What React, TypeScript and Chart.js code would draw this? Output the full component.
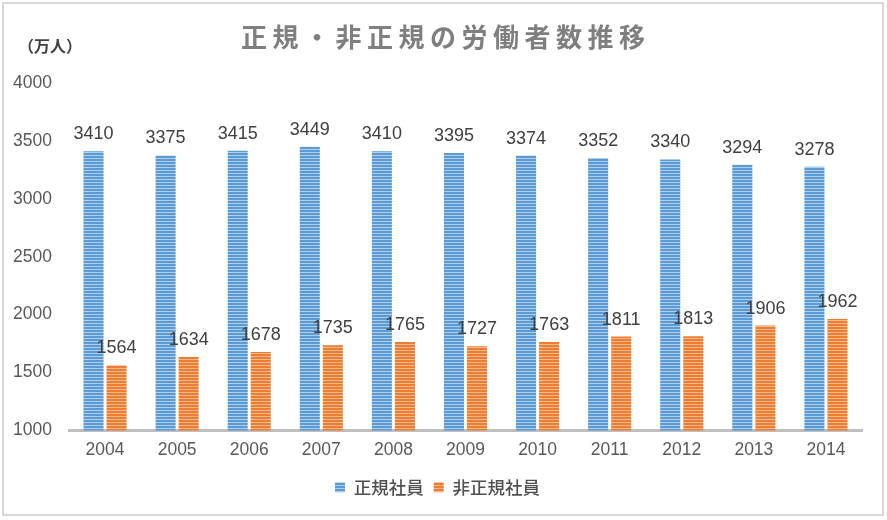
import React, { useEffect, useRef } from "react";
import { Chart, registerables } from "chart.js";

Chart.register(...registerables);

const years = ["2004", "2005", "2006", "2007", "2008", "2009", "2010", "2011", "2012", "2013", "2014"];
const regular = [3410, 3375, 3415, 3449, 3410, 3395, 3374, 3352, 3340, 3294, 3278];
const nonRegular = [1564, 1634, 1678, 1735, 1765, 1727, 1763, 1811, 1813, 1906, 1962];
const seriesNames = ["正規社員", "非正規社員"];
const titleText = "正規・非正規の労働者数推移";
const unitText = "（万人）";

const FONT = "'Noto Sans CJK JP', 'Noto Sans', sans-serif";
const NUMFONT = "'Liberation Sans', 'Noto Sans CJK JP', sans-serif";

function makeStripe(base: string, light: string): CanvasPattern | string {
  const c = document.createElement("canvas");
  c.width = 4;
  c.height = 3;
  const g = c.getContext("2d");
  if (!g) return base;
  g.fillStyle = base;
  g.fillRect(0, 0, 4, 3);
  g.fillStyle = light;
  g.fillRect(0, 2, 4, 1);
  const p = g.createPattern(c, "repeat");
  return p || base;
}

const textPlugin = {
  id: "customText",
  afterDraw(chart: any) {
    const ctx = chart.ctx as CanvasRenderingContext2D;
    ctx.save();
    ctx.font = `bold 26px ${FONT}`;
    ctx.fillStyle = "#7f7f7f";
    ctx.textAlign = "center";
    ctx.textBaseline = "middle";
    (ctx as any).letterSpacing = "5.5px";
    ctx.fillText(titleText, 443 + 2.75, 37);
    (ctx as any).letterSpacing = "0px";
    ctx.font = `bold 16px ${FONT}`;
    ctx.fillStyle = "#404040";
    ctx.textAlign = "left";
    ctx.fillText(unitText, 18, 46);
    ctx.restore();
  },
};

const labelPlugin = {
  id: "valueLabels",
  afterDatasetsDraw(chart: any) {
    const ctx = chart.ctx as CanvasRenderingContext2D;
    ctx.save();
    ctx.font = `18px ${NUMFONT}`;
    ctx.fillStyle = "#404040";
    ctx.textAlign = "center";
    ctx.textBaseline = "alphabetic";
    chart.data.datasets.forEach((ds: any, i: number) => {
      const meta = chart.getDatasetMeta(i);
      meta.data.forEach((el: any, j: number) => {
        ctx.fillText(String(ds.data[j]), el.x, el.y - 12);
      });
    });
    ctx.restore();
  },
};

export default function App() {
  const ref = useRef<HTMLCanvasElement | null>(null);

  useEffect(() => {
    if (!ref.current) return;
    const blue = makeStripe("#5b9bd5", "#b0cdec");
    const orange = makeStripe("#ed7d31", "#f6b88c");
    const chart = new Chart(ref.current, {
      type: "bar",
      data: {
        labels: years,
        datasets: [
          {
            label: seriesNames[0],
            data: regular,
            backgroundColor: blue as any,
            borderWidth: 0,
            categoryPercentage: 0.64,
            barPercentage: 0.87,
          },
          {
            label: seriesNames[1],
            data: nonRegular,
            backgroundColor: orange as any,
            borderWidth: 0,
            categoryPercentage: 0.64,
            barPercentage: 0.87,
          },
        ],
      },
      options: {
        responsive: true,
        maintainAspectRatio: false,
        animation: false,
        layout: { padding: { top: 83, left: 13, right: 25, bottom: 14 } },
        plugins: {
          title: { display: false },
          tooltip: { enabled: false },
          legend: {
            display: true,
            position: "bottom",
            labels: {
              boxWidth: 10,
              boxHeight: 10,
              padding: 10,
              color: "#505050",
              font: { family: FONT, size: 17.5, weight: 500 },
            },
          },
        },
        scales: {
          x: {
            grid: { display: false, drawTicks: false },
            border: { display: true, color: "#bfbfbf", width: 3 },
            ticks: { color: "#595959", padding: 9, font: { family: NUMFONT, size: 17.5 } },
            afterFit: (s: any) => {
              s.height = 38;
            },
          },
          y: {
            min: 1000,
            max: 4000,
            grid: { display: false, drawTicks: false },
            border: { display: false },
            ticks: {
              stepSize: 500,
              color: "#595959",
              crossAlign: "far",
              font: { family: NUMFONT, size: 17.5 },
              callback: (v: any) => String(v),
            },
            afterFit: (s: any) => {
              s.width = 56;
            },
          },
        },
      },
      plugins: [labelPlugin, textPlugin],
    });
    return () => chart.destroy();
  }, []);

  return (
    <div
      style={{
        position: "absolute",
        left: 0,
        top: 0,
        width: 887,
        height: 520,
        background: "#ffffff",
      }}
    >
      <div
        style={{
          position: "absolute",
          left: 2,
          top: 2,
          width: 882,
          height: 514,
          boxSizing: "border-box",
          border: "2px solid #d9d9d9",
        }}
      />
      <canvas ref={ref} style={{ position: "absolute", left: 0, top: 0 }} />
    </div>
  );
}
